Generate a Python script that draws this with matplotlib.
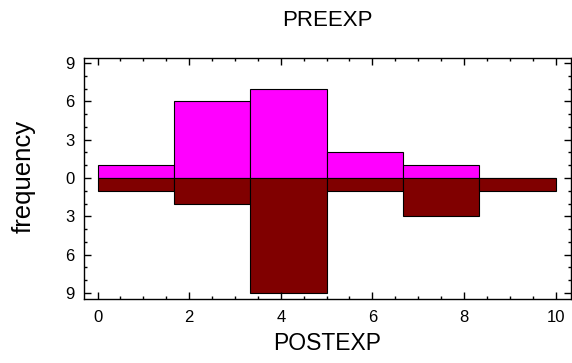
import matplotlib
matplotlib.use("Agg")
import matplotlib.pyplot as plt
import numpy as np
from matplotlib.ticker import MultipleLocator, FuncFormatter

plt.rcParams['font.family'] = ['Liberation Sans', 'DejaVu Sans']

bin_edges = [0, 10/6, 20/6, 30/6, 40/6, 50/6, 10]
pre_counts = [1, 6, 7, 2, 1, 0]
post_counts = [1, 2, 9, 1, 3, 1]
x_ticks = [0, 2, 4, 6, 8, 10]
y_ticks = [-9, -6, -3, 0, 3, 6, 9]

fig = plt.figure(figsize=(5.72, 3.63), dpi=100)
ax = fig.add_axes([0.1474, 0.1763, 0.8503, 0.6631])

lefts = np.array(bin_edges[:-1])
widths = np.diff(bin_edges)
ax.bar(lefts, pre_counts, width=widths, align='edge', color='#FF00FF',
       edgecolor='black', linewidth=0.8)
ax.bar(lefts, -np.array(post_counts), width=widths, align='edge', color='#800000',
       edgecolor='black', linewidth=0.8)

ax.set_xlim(-0.29, 10.33)
ax.set_ylim(-9.47, 9.37)
ax.set_xticks(x_ticks)
ax.set_yticks(y_ticks)
ax.xaxis.set_minor_locator(MultipleLocator(0.5))
ax.yaxis.set_minor_locator(MultipleLocator(1))
ax.yaxis.set_major_formatter(FuncFormatter(lambda v, p: f"{abs(int(round(v)))}"))
ax.tick_params(which='both', direction='in', top=True, right=True, labelsize=12)
ax.tick_params(which='major', length=5, width=1)
ax.tick_params(which='minor', length=2.5, width=1)
ax.tick_params(axis='x', which='major', pad=8)
ax.tick_params(axis='y', which='major', pad=7)
for s in ax.spines.values():
    s.set_linewidth(1)

ax.set_title('PREEXP', fontsize=16, pad=23)
ax.set_xlabel('POSTEXP', fontsize=16.5, labelpad=5)
ax.set_ylabel('frequency', fontsize=18.5)
ax.yaxis.label.set_va('center')
ax.yaxis.set_label_coords(24/572, 1 - 176.5/363, transform=fig.transFigure)

fig.savefig('out.png', dpi=100)
